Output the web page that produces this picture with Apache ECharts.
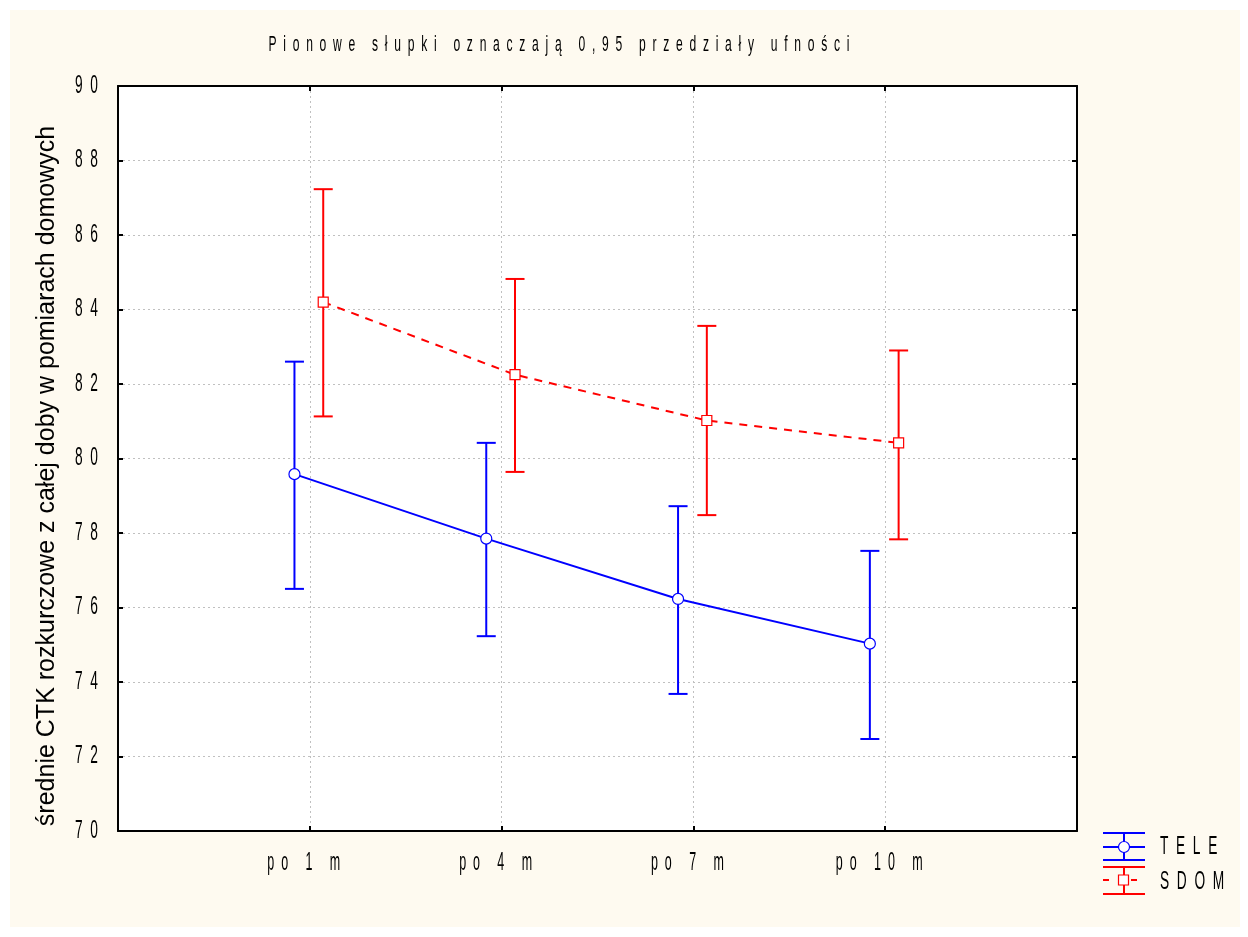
<!DOCTYPE html>
<html><head><meta charset="utf-8">
<script src="https://cdn.jsdelivr.net/npm/echarts@6/dist/echarts.min.js"></script>
<style>html,body{margin:0;padding:0;background:#fff}#c{width:1248px;height:937px}</style>
</head><body><div id="c"></div>
<script>
const categories = ['po 1 m', 'po 4 m', 'po 7 m', 'po 10 m'];
const teleMean = [79.58, 77.85, 76.23, 75.03];
const teleLow  = [76.50, 75.23, 73.68, 72.47];
const teleHigh = [82.60, 80.42, 78.72, 77.52];
const sdomMean = [84.20, 82.25, 81.02, 80.42];
const sdomLow  = [81.13, 79.64, 78.48, 77.83];
const sdomHigh = [87.23, 84.82, 83.56, 82.90];
const yTicks = [70, 72, 74, 76, 78, 80, 82, 84, 86, 88, 90];
const titleText = 'Pionowe słupki oznaczają 0,95 przedziały ufności';
const yName = 'średnie CTK rozkurczowe z całej doby w pomiarach domowych';
const legendNames = ['TELE', 'SDOM'];

const spaced = s => s.split('').join('  ');
const FONT = '"Liberation Sans", Arial, sans-serif';
const BLUE = '#0000ff', RED = '#ff0000';
const offT = -0.08, offS = 0.07;

function pts(mean, off) { return mean.map((v, i) => [i + 1 + off, v]); }
function errs(lo, hi, off) { return lo.map((v, i) => [i + 1 + off, v, hi[i]]); }

function errSeries(data, color) {
  return {
    type: 'custom', xAxisIndex: 0, yAxisIndex: 0, data: data, z: 3,
    renderItem: function (params, api) {
      const x = api.value(0);
      const a = api.coord([x, api.value(1)]);
      const b = api.coord([x, api.value(2)]);
      const w = 9.5;
      const st = { stroke: color, lineWidth: 2 };
      return { type: 'group', children: [
        { type: 'line', shape: { x1: a[0], y1: a[1], x2: b[0], y2: b[1] }, style: st },
        { type: 'line', shape: { x1: a[0] - w, y1: a[1], x2: a[0] + w, y2: a[1] }, style: st },
        { type: 'line', shape: { x1: b[0] - w, y1: b[1], x2: b[0] + w, y2: b[1] }, style: st }
      ]};
    }
  };
}

function narrowText(text, x, y, size, sx, align) {
  return { type: 'text', z: 10, silent: true, x: x, y: y, scaleX: sx,
    style: { text: text, x: 0, y: 0, align: align, verticalAlign: 'middle', font: size + 'px ' + FONT, fill: '#000' } };
}

const chart = echarts.init(document.getElementById('c'), null, { renderer: 'canvas' });
const G = { left: 118, top: 86, right: 171, bottom: 106 };
const axisCommon = {
  axisLine: { show: true, onZero: false, lineStyle: { color: '#000', width: 2 } },
  axisTick: { show: true, inside: true, length: 5, lineStyle: { color: '#000', width: 2 } },
  axisLabel: { show: false }
};

const baseGraphic = [
  { type: 'rect', z: -10, silent: true, shape: { x: 10, y: 10, width: 1230, height: 917 }, style: { fill: '#fefaf0' } },
  narrowText(spaced(titleText), 559, 45, 22, 0.55, 'center'),
  { type: 'text', z: 10, x: 47, y: 476, rotation: Math.PI / 2,
    style: { text: yName, x: 0, y: 0, align: 'center', verticalAlign: 'middle', font: '25px ' + FONT, fill: '#000' } },
  // legend TELE
  { type: 'line', shape: { x1: 1103, y1: 833, x2: 1145, y2: 833 }, style: { stroke: BLUE, lineWidth: 2 } },
  { type: 'line', shape: { x1: 1103, y1: 847, x2: 1145, y2: 847 }, style: { stroke: BLUE, lineWidth: 2 } },
  { type: 'line', shape: { x1: 1103, y1: 860, x2: 1145, y2: 860 }, style: { stroke: BLUE, lineWidth: 2 } },
  { type: 'line', shape: { x1: 1124, y1: 833, x2: 1124, y2: 860 }, style: { stroke: BLUE, lineWidth: 2 } },
  { type: 'circle', z: 5, shape: { cx: 1124, cy: 847, r: 5.5 }, style: { fill: '#fff', stroke: BLUE, lineWidth: 1.2 } },
  narrowText(spaced(legendNames[0]), 1160, 847, 25, 0.55, 'left'),
  // legend SDOM
  { type: 'line', shape: { x1: 1103, y1: 867, x2: 1145, y2: 867 }, style: { stroke: RED, lineWidth: 2 } },
  { type: 'line', shape: { x1: 1103, y1: 880, x2: 1145, y2: 880 }, style: { stroke: RED, lineWidth: 2, lineDash: [6, 22] } },
  { type: 'line', shape: { x1: 1103, y1: 894, x2: 1145, y2: 894 }, style: { stroke: RED, lineWidth: 2 } },
  { type: 'line', shape: { x1: 1124, y1: 867, x2: 1124, y2: 894 }, style: { stroke: RED, lineWidth: 2 } },
  { type: 'rect', z: 5, shape: { x: 1118.5, y: 875, width: 10, height: 10 }, style: { fill: '#fff', stroke: RED, lineWidth: 1.2 } },
  narrowText(spaced(legendNames[1]), 1160, 882, 25, 0.55, 'left')
];

chart.setOption({
  animation: false,
  backgroundColor: '#ffffff',
  grid: { left: G.left, top: G.top, right: G.right, bottom: G.bottom, show: true, backgroundColor: '#ffffff', borderWidth: 0 },
  xAxis: [
    Object.assign({ type: 'value', min: 0, max: 5, interval: 1,
      splitLine: { show: true, lineStyle: { color: '#c0c0c0', type: [2, 3], width: 1 } } }, axisCommon),
    Object.assign({ type: 'value', min: 0, max: 5, interval: 1, position: 'top', splitLine: { show: false } }, axisCommon)
  ],
  yAxis: [
    Object.assign({ type: 'value', min: 70, max: 90, interval: 2,
      splitLine: { show: true, lineStyle: { color: '#c0c0c0', type: [2, 3], width: 1 } } }, axisCommon),
    Object.assign({ type: 'value', min: 70, max: 90, interval: 2, position: 'right', splitLine: { show: false } }, axisCommon)
  ],
  graphic: baseGraphic,
  series: [
    errSeries(errs(teleLow, teleHigh, offT), BLUE),
    errSeries(errs(sdomLow, sdomHigh, offS), RED),
    { type: 'line', name: legendNames[0], data: pts(teleMean, offT), z: 4,
      lineStyle: { color: BLUE, width: 2 }, symbol: 'circle', symbolSize: 11,
      itemStyle: { color: '#fff', borderColor: BLUE, borderWidth: 1.2 } },
    { type: 'line', name: legendNames[1], data: pts(sdomMean, offS), z: 4,
      lineStyle: { color: RED, width: 2, type: [8, 7] }, symbol: 'rect', symbolSize: 10,
      itemStyle: { color: '#fff', borderColor: RED, borderWidth: 1.2 } }
  ]
});

// Tick labels placed through the axes' own scales (narrow, letter-spaced text)
const labels = [];
yTicks.forEach(v => {
  const py = chart.convertToPixel({ yAxisIndex: 0 }, v);
  labels.push(narrowText(spaced(String(v)), G.left - 20, py, 25, 0.55, 'right'));
});
categories.forEach((c, i) => {
  const px = chart.convertToPixel({ xAxisIndex: 0 }, i + 1);
  labels.push(narrowText(spaced(c), px - 6, 863, 25, 0.5, 'center'));
});
chart.setOption({ graphic: baseGraphic.concat(labels) }, { replaceMerge: ['graphic'] });
</script></body></html>
